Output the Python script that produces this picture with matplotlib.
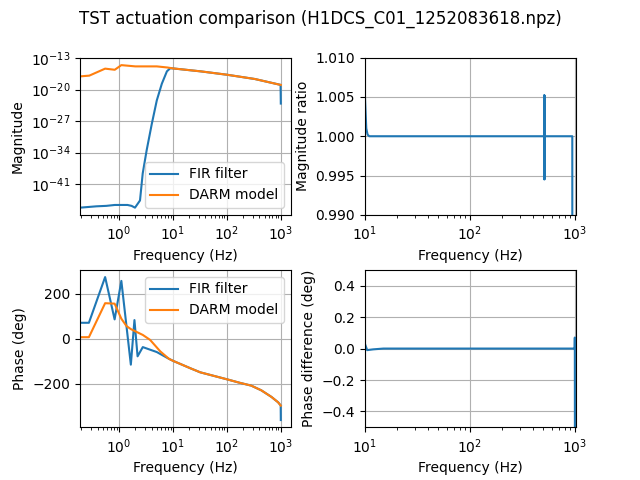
import numpy as np
from matplotlib import pyplot as plt

# magnitude (log10 of value)
freq_fir_mag = [0.188, 0.38, 0.58, 0.83, 1.43, 1.7, 1.97, 2.44, 2.74, 3.25, 4.04,
                5.0, 6.2, 7.7, 8.9, 10, 33, 100, 330, 990, 1000]
fir_mag_log = [-46.2, -45.9, -45.8, -45.6, -45.6, -45.8, -46.2, -44.6, -38.6, -33.4, -27.6,
               -22.4, -18.7, -15.95, -15.25, -15.3, -15.96, -16.7, -17.65, -18.95, -23.1]

freq_darm_mag = [0.188, 0.28, 0.55, 0.83, 1.1, 2.0, 5.0, 7.9, 10, 33, 100, 330, 1000]
darm_mag_log = [-17.07, -16.9, -15.35, -15.6, -14.57, -14.85, -14.85, -15.1, -15.3,
                -15.96, -16.7, -17.65, -18.97]

# phase (deg)
freq_fir_ph = [0.188, 0.275, 0.55, 0.825, 1.1, 1.65, 1.925, 2.2, 2.75, 5.0, 8.4, 10,
               21, 32, 100, 176, 282, 435, 668, 890, 995, 1000]
fir_phase = [70, 70, 273, 85, 256, -116, 82, -79, -38, -60, -90, -99,
             -132, -150, -181, -197, -209, -230, -259, -283, -297, -362]

freq_darm_ph = [0.188, 0.275, 0.55, 0.825, 1.1, 1.375, 1.65, 1.925, 2.75, 3.76, 5.8, 8.4, 10,
                21, 32, 100, 176, 282, 435, 668, 890, 1000]
darm_phase = [6, 6, 157, 155, 88, 55, 42, 34, 16, -6, -57, -90, -99,
              -132, -150, -181, -197, -209, -230, -259, -283, -298]

# ratio and phase difference above 10 Hz
freq_ratio = [10, 10.3, 10.6, 11, 20, 100, 508, 509, 510, 511, 512, 513, 514, 515, 516,
              600, 944, 945]
mag_ratio = [1.0050, 1.0010, 1.0002, 1.0000, 1.0000, 1.0000, 1.0000, 1.0052, 0.9946,
             1.0051, 0.9945, 1.0052, 0.9946, 1.0050, 1.0000, 1.0000, 1.0000, 0.98]

freq_pdiff = [10, 10.5, 12, 15, 100, 995, 998, 1000]
phase_diff = [0.03, -0.01, -0.005, 0.0, 0.0, 0.0, 0.07, -0.6]

fig, axes = plt.subplots(2, 2, figsize=(6.4, 4.8), dpi=100)
plt.subplots_adjust(wspace=0.35, hspace=0.35)
fig.suptitle('TST actuation comparison (H1DCS_C01_1252083618.npz)')

ax = axes[0, 0]
ax.loglog(freq_fir_mag, 10 ** np.array(fir_mag_log), label='FIR filter')
ax.loglog(freq_darm_mag, 10 ** np.array(darm_mag_log), label='DARM model')
ax.set_xlim(0.188, 1550)
ax.set_yticks([1e-13, 1e-20, 1e-27, 1e-34, 1e-41])
ax.set_ylim(10 ** -47.8, 10 ** -12.9)
ax.set_xlabel('Frequency (Hz)')
ax.set_ylabel('Magnitude')
ax.grid(True)
ax.legend(loc='lower right')

ax = axes[0, 1]
ax.semilogx(freq_ratio, mag_ratio)
ax.set_xlim(10, 1024)
ax.set_ylim(0.99, 1.01)
ax.set_xlabel('Frequency (Hz)')
ax.set_ylabel('Magnitude ratio')
ax.grid(True)

ax = axes[1, 0]
ax.semilogx(freq_fir_ph, fir_phase, label='FIR filter')
ax.semilogx(freq_darm_ph, darm_phase, label='DARM model')
ax.set_xlim(0.188, 1550)
ax.set_xlabel('Frequency (Hz)')
ax.set_ylabel('Phase (deg)')
ax.grid(True)
ax.legend(loc='upper right')

ax = axes[1, 1]
ax.semilogx(freq_pdiff, phase_diff)
ax.set_xlim(10, 1024)
ax.set_ylim(-0.5, 0.5)
ax.set_xlabel('Frequency (Hz)')
ax.set_ylabel('Phase difference (deg)')
ax.grid(True)

plt.savefig('out.png')
